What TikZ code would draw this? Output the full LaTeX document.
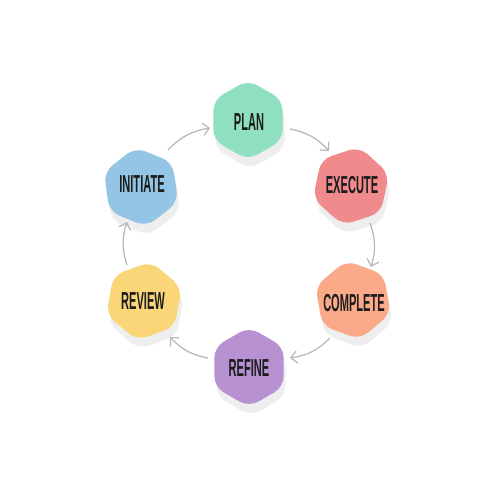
\documentclass[tikz,border=0pt]{standalone}
\usepackage{fontspec}
\usepackage{graphicx}
\setmainfont{Liberation Sans}
\usetikzlibrary{arrows.meta}
\definecolor{cplan}{HTML}{8EE0C0}
\definecolor{cexec}{HTML}{F08A8C}
\definecolor{ccomp}{HTML}{FAAA88}
\definecolor{cref}{HTML}{B791D2}
\definecolor{crev}{HTML}{FBD679}
\definecolor{cinit}{HTML}{94C5E7}
\definecolor{shadowc}{HTML}{EEEEEE}
\definecolor{arrowc}{HTML}{B8B8B8}
\definecolor{txt}{HTML}{1C1C1C}
\newcommand\myhexa[4]{%
  \begin{scope}[shift={(#1+2,#2+9)}]
    \fill[shadowc,rounded corners=6pt] (90+#3:40)--(150+#3:40)--(210+#3:40)--(270+#3:40)--(330+#3:40)--(30+#3:40)--cycle;
  \end{scope}
  \begin{scope}[shift={(#1,#2)}]
    \fill[#4,rounded corners=6pt] (90+#3:40)--(150+#3:40)--(210+#3:40)--(270+#3:40)--(330+#3:40)--(30+#3:40)--cycle;
  \end{scope}}
\newcommand\cnd[1]{\scalebox{0.45}[1]{#1}}
\begin{document}
\begin{tikzpicture}[x=0.02cm,y=-0.02cm,
  lbl/.style={text=txt,font=\bfseries\fontsize{14}{14}\selectfont,inner sep=0pt},
  conn/.style={draw=arrowc,line width=0.7pt,-{Straight Barb[length=3.5pt,width=7pt]}}]
\fill[white] (0,0) rectangle (500,500);
\useasboundingbox (0,0) rectangle (500,500);
\myhexa{248}{120}{0}{cplan}
\myhexa{351}{186}{12}{cexec}
\myhexa{353}{300}{-10}{ccomp}
\myhexa{249}{367}{0}{cref}
\myhexa{144}{301}{10}{crev}
\myhexa{141}{187}{-8}{cinit}
\node[lbl] (plan) at (249,122) {\cnd{PLAN}};
\node[lbl] (execute) at (352,185) {\cnd{EXECUTE}};
\node[lbl] (complete) at (354,303) {\cnd{COMPLETE}};
\node[lbl] (refine) at (249,368) {\cnd{REFINE}};
\node[lbl] (review) at (143,301) {\cnd{REVIEW}};
\node[lbl] (initiate) at (142,184) {\cnd{INITIATE}};
\coordinate (a1s) at (168,150); \coordinate (a1e) at (210,128);
\coordinate (a2s) at (290,129); \coordinate (a2e) at (329,151);
\coordinate (a3s) at (370,223); \coordinate (a3e) at (371,267);
\coordinate (a4s) at (330,338); \coordinate (a4e) at (290,358);
\coordinate (a5s) at (208,358); \coordinate (a5e) at (170,337);
\coordinate (a6s) at (127,265); \coordinate (a6e) at (127,222);
\draw[conn] (a1s) to[bend left=18] (a1e);
\draw[conn] (a2s) to[bend left=18] (a2e);
\draw[conn] (a3s) to[bend left=18] (a3e);
\draw[conn] (a4s) to[bend left=18] (a4e);
\draw[conn] (a5s) to[bend left=18] (a5e);
\draw[conn] (a6s) to[bend left=18] (a6e);
\end{tikzpicture}
\end{document}
